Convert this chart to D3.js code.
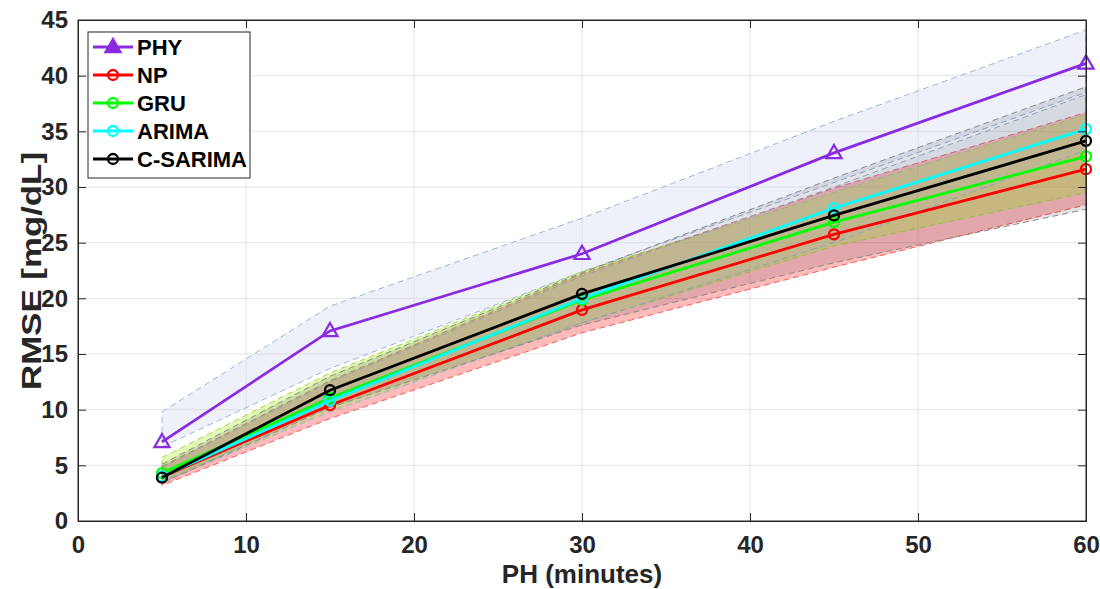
<!DOCTYPE html>
<html><head><meta charset="utf-8">
<script src="https://cdn.jsdelivr.net/npm/d3@7"></script>
<style>
html,body{margin:0;padding:0;background:#fff;}
svg{display:block;font-family:"Liberation Sans",Arial,sans-serif;}
</style></head>
<body>
<svg id="chart" width="1100" height="589"></svg>
<script>
const phs = [5, 15, 30, 45, 60];
const seriesNames = ["PHY", "NP", "GRU", "ARIMA", "C-SARIMA"];
const phyMean  = [7.1, 17.07, 24.0, 33.06, 41.1];
const npMean   = [3.95, 10.4, 18.96, 25.75, 31.6];
const gruMean  = [4.3, 11.05, 19.85, 26.85, 32.75];
const arimaMean= [4.0, 10.8, 20.0, 28.1, 35.2];
const csarMean = [3.9, 11.75, 20.4, 27.45, 34.15];
const phyLow   = [6.65, 13.7, 22.4, 30.4, 38.5];
const phyHigh  = [9.8, 19.3, 27.2, 35.9, 44.1];
const npLow    = [3.2, 9.2, 16.9, 22.8, 28.4];
const npHigh   = [4.9, 12.6, 22.2, 29.9, 36.7];
const gruLow   = [3.6, 9.9, 17.8, 24.7, 29.5];
const gruHigh  = [5.7, 13.3, 22.4, 29.5, 36.5];
const arimaLow = [3.5, 9.8, 17.8, 25.0, 33.3];
const arimaHigh= [4.8, 12.5, 22.0, 30.0, 38.3];
const csarLow  = [3.4, 10.2, 17.6, 23.2, 28.0];
const csarHigh = [5.1, 13.0, 22.3, 30.8, 39.0];
const xTicks = [0, 10, 20, 30, 40, 50, 60];
const yTicks = [0, 5, 10, 15, 20, 25, 30, 35, 40, 45];

const series = [
  {name:"PHY", mean:phyMean, lo:phyLow, hi:phyHigh, color:"#8a2be2", fill:"#c9d4ee", fop:0.32, edge:"#9fb4d8", marker:"tri"},
  {name:"NP", mean:npMean, lo:npLow, hi:npHigh, color:"#ff0000", fill:"#ff0000", fop:0.27, edge:"#ff5a5a", marker:"circ"},
  {name:"GRU", mean:gruMean, lo:gruLow, hi:gruHigh, color:"#00ff00", fill:"#b4f03c", fop:0.38, edge:"#a8d84a", marker:"circ"},
  {name:"ARIMA", mean:arimaMean, lo:arimaLow, hi:arimaHigh, color:"#00ffff", fill:"#b9c9ea", fop:0.2, edge:"#9fb4d8", marker:"circ"},
  {name:"C-SARIMA", mean:csarMean, lo:csarLow, hi:csarHigh, color:"#000000", fill:"#1a2a3a", fop:0.13, edge:"#8a8a8a", marker:"circ"}
];

const svg = d3.select("#chart");
const L = 78, R = 1086, T = 20, B = 521;
const x = d3.scaleLinear().domain([0, 60]).range([L, R]);
const y = d3.scaleLinear().domain([0, 45]).range([B, T]);

// grid
const grid = svg.append("g");
grid.selectAll("line.gx").data(xTicks.slice(1, -1)).enter().append("line")
  .attr("x1", d => x(d)).attr("x2", d => x(d)).attr("y1", T).attr("y2", B)
  .attr("stroke", "#e4e4e4").attr("stroke-width", 1);
grid.selectAll("line.gy").data(yTicks.slice(1, -1)).enter().append("line")
  .attr("x1", L).attr("x2", R).attr("y1", d => y(d)).attr("y2", d => y(d))
  .attr("stroke", "#e4e4e4").attr("stroke-width", 1);

// bands
const area = d3.area().x((d, i) => x(phs[i])).y0(d => y(d[0])).y1(d => y(d[1]));
series.forEach(s => {
  const pts = s.lo.map((v, i) => [v, s.hi[i]]);
  svg.append("path").datum(pts).attr("d", area)
    .attr("fill", s.fill).attr("fill-opacity", s.fop).attr("stroke", "none");
  const poly = phs.map((p, i) => [x(p), y(s.hi[i])]).concat(phs.map((p, i) => [x(p), y(s.lo[i])]).reverse());
  svg.append("path").attr("d", "M" + poly.map(p => p.join(",")).join("L") + "Z")
    .attr("fill", "none").attr("stroke", s.edge).attr("stroke-width", 1)
    .attr("stroke-dasharray", "6,4");
});

// lines + markers
const meanLine = d3.line().x((d, i) => x(phs[i])).y(d => y(d));
function drawMarker(g, type, cx, cy, color, filled) {
  if (type === "tri") {
    const s = 8;
    g.append("path").attr("d", `M${cx},${cy - s}L${cx + s * 0.95},${cy + s * 0.65}L${cx - s * 0.95},${cy + s * 0.65}Z`)
      .attr("fill", filled ? color : "none").attr("stroke", color).attr("stroke-width", 2.2);
  } else {
    g.append("circle").attr("cx", cx).attr("cy", cy).attr("r", 5)
      .attr("fill", "none").attr("stroke", color).attr("stroke-width", 2.3);
  }
}
series.forEach(s => {
  const g = svg.append("g");
  g.append("path").datum(s.mean).attr("d", meanLine)
    .attr("fill", "none").attr("stroke", s.color).attr("stroke-width", 2.8);
  s.mean.forEach((v, i) => drawMarker(g, s.marker, x(phs[i]), y(v), s.color, false));
});

// axes box
svg.append("rect").attr("x", L).attr("y", T).attr("width", R - L).attr("height", B - T)
  .attr("fill", "none").attr("stroke", "#262626").attr("stroke-width", 1);

const axX = svg.append("g").attr("transform", `translate(0,${B})`)
  .call(d3.axisBottom(x).tickValues(xTicks).tickSize(-8).tickPadding(15));
const axY = svg.append("g").attr("transform", `translate(${L},0)`)
  .call(d3.axisLeft(y).tickValues(yTicks).tickSize(-8).tickPadding(10));
const axX2 = svg.append("g").attr("transform", `translate(0,${T})`)
  .call(d3.axisTop(x).tickValues(xTicks).tickSize(-8).tickFormat(""));
const axY2 = svg.append("g").attr("transform", `translate(${R},0)`)
  .call(d3.axisRight(y).tickValues(yTicks).tickSize(-8).tickFormat(""));
[axX, axY, axX2, axY2].forEach(a => {
  a.select(".domain").attr("stroke", "#262626");
  a.selectAll(".tick line").attr("stroke", "#262626");
  a.selectAll(".tick text").attr("fill", "#262626")
    .style("font-size", "24px").style("font-weight", "bold")
    .style("font-family", "'Liberation Sans', Arial, sans-serif");
});

// axis labels
svg.append("text").attr("x", x(30)).attr("y", 583).attr("text-anchor", "middle")
  .style("font-size", "26px").style("font-weight", "bold").attr("fill", "#262626")
  .text("PH (minutes)");
svg.append("text").attr("transform", `translate(41,${271}) rotate(-90)`)
  .attr("text-anchor", "middle")
  .attr("textLength", 238).attr("lengthAdjust", "spacingAndGlyphs")
  .style("font-size", "28px").style("font-weight", "bold").attr("fill", "#262626")
  .text("RMSE [mg/dL]");

// legend
const lg = svg.append("g");
lg.append("rect").attr("x", 88).attr("y", 32).attr("width", 162).attr("height", 146)
  .attr("fill", "#fff").attr("stroke", "#262626").attr("stroke-width", 1);
series.forEach((s, i) => {
  const yy = 47 + i * 28;
  lg.append("line").attr("x1", 93).attr("x2", 133).attr("y1", yy).attr("y2", yy)
    .attr("stroke", s.color).attr("stroke-width", 2.8);
  drawMarker(lg, s.marker, 113, yy, s.color, s.marker === "tri");
  lg.append("text").attr("x", 137).attr("y", yy + 8).attr("fill", "#000")
    .style("font-size", "22px").style("font-weight", "bold").text(s.name);
});
</script>
</body></html>
